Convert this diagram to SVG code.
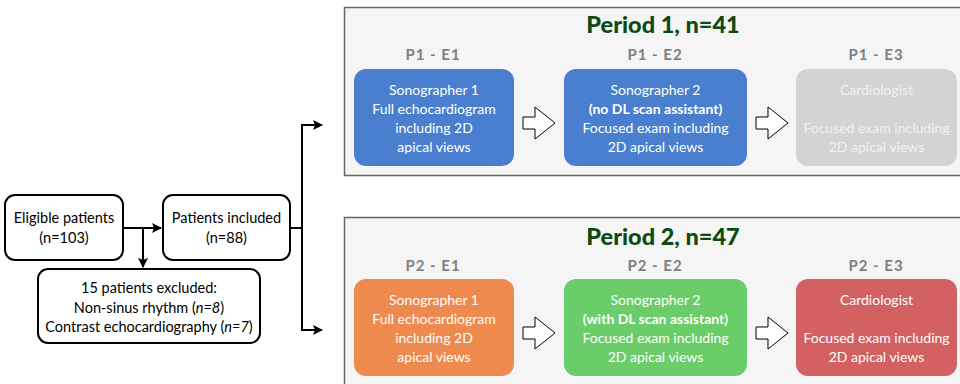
<svg xmlns="http://www.w3.org/2000/svg" width="960" height="384" viewBox="0 0 960 384">
<defs>
<marker id="ah" viewBox="0 0 10 10" refX="9" refY="5" markerWidth="10" markerHeight="10" markerUnits="userSpaceOnUse" orient="auto">
<path d="M0,0 L10,5 L0,10 L2,5 Z" fill="#000"/>
</marker>
<path id="harrow" d="M0,10 H12 V0 L32,16 L12,32 V22 H0 Z" fill="#fff" stroke="#000" stroke-width="1"/>
</defs>
<style>
text{font-family:Lato,"Open Sans","Liberation Sans",sans-serif;text-anchor:middle}
.wb{fill:#fff;stroke:#000;stroke-width:2}
.bt{font-size:14.5px;fill:#000}
.panel{fill:#f5f5f5;stroke:#666;stroke-width:1.5}
.title{font-size:23.5px;font-weight:900;fill:#0d4a12}
.lab{font-size:15px;font-weight:bold;fill:#7f7f7f;letter-spacing:1px}
.box{stroke:none}
.wt{font-size:14px;fill:#fff}
.gt{font-size:14px;fill:#f2f2f2}
.b{font-weight:bold}
.conn{fill:none;stroke:#000;stroke-width:2}
</style>
<rect class="panel" x="344.5" y="7.5" width="630" height="168"/>
<rect class="panel" x="344.5" y="217.5" width="630" height="180"/>
<g id="connectors">
<path class="conn" d="M123,228 H161" marker-end="url(#ah)"/>
<path class="conn" d="M143,228 V267" marker-end="url(#ah)"/>
<path class="conn" d="M290,228 H302 M302,125 V330"/>
<path class="conn" d="M301,125 H322" marker-end="url(#ah)"/>
<path class="conn" d="M301,330 H322" marker-end="url(#ah)"/>
<use href="#harrow" x="523" y="107"/>
<use href="#harrow" x="756" y="107"/>
<use href="#harrow" x="523" y="317"/>
<use href="#harrow" x="756" y="317"/>
</g>
<g id="eligible">
<rect class="wb" x="5" y="195" width="118" height="65" rx="10"/>
<text class="bt" x="64" y="223">Eligible patients</text>
<text class="bt" x="64" y="243">(n=103)</text>
</g>
<g id="included">
<rect class="wb" x="163" y="195" width="127" height="65" rx="10"/>
<text class="bt" x="226.5" y="223">Patients included</text>
<text class="bt" x="226.5" y="243">(n=88)</text>
</g>
<g id="excluded">
<rect class="wb" x="38" y="269" width="222" height="74" rx="10"/>
<text class="bt" x="149" y="293">15 patients excluded:</text>
<text class="bt" x="149" y="313">Non-sinus rhythm (<tspan font-style="italic">n=8</tspan>)</text>
<text class="bt" x="149" y="332">Contrast echocardiography (<tspan font-style="italic">n=7</tspan>)</text>
</g>
<g id="period1">
<text class="title" x="663" y="33">Period 1, n=41</text>
</g>
<g id="p1e1">
<text class="lab" x="433" y="60">P1 - E1</text>
<rect class="box" x="354" y="69" width="160" height="97" rx="12" fill="#4a7fd0"/>
<text class="wt" x="434" y="95">Sonographer 1</text>
<text class="wt" x="434" y="114">Full echocardiogram</text>
<text class="wt" x="434" y="133">including 2D</text>
<text class="wt" x="434" y="152">apical views</text>
</g>
<g id="p1e2">
<text class="lab" x="655" y="60">P1 - E2</text>
<rect class="box" x="564" y="69" width="183" height="97" rx="12" fill="#4a7fd0"/>
<text class="wt" x="655.5" y="95">Sonographer 2</text>
<text class="wt b" x="655.5" y="114">(no DL scan assistant)</text>
<text class="wt" x="655.5" y="133">Focused exam including</text>
<text class="wt" x="655.5" y="152">2D apical views</text>
</g>
<g id="p1e3">
<text class="lab" x="876" y="60">P1 - E3</text>
<rect class="box" x="796" y="69" width="161" height="97" rx="12" fill="#d3d3d3"/>
<text class="gt" x="876.5" y="95">Cardiologist</text>
<text class="gt" x="876.5" y="133">Focused exam including</text>
<text class="gt" x="876.5" y="152">2D apical views</text>
</g>
<g id="period2">
<text class="title" x="663" y="245">Period 2, n=47</text>
</g>
<g id="p2e1">
<text class="lab" x="433" y="271">P2 - E1</text>
<rect class="box" x="354" y="279" width="160" height="97" rx="12" fill="#ef8a4e"/>
<text class="wt" x="434" y="305">Sonographer 1</text>
<text class="wt" x="434" y="324">Full echocardiogram</text>
<text class="wt" x="434" y="343">including 2D</text>
<text class="wt" x="434" y="362">apical views</text>
</g>
<g id="p2e2">
<text class="lab" x="655" y="271">P2 - E2</text>
<rect class="box" x="564" y="279" width="183" height="97" rx="12" fill="#6acd6a"/>
<text class="wt" x="655.5" y="305">Sonographer 2</text>
<text class="wt b" x="655.5" y="324">(with DL scan assistant)</text>
<text class="wt" x="655.5" y="343">Focused exam including</text>
<text class="wt" x="655.5" y="362">2D apical views</text>
</g>
<g id="p2e3">
<text class="lab" x="876" y="271">P2 - E3</text>
<rect class="box" x="796" y="279" width="161" height="97" rx="12" fill="#d46161"/>
<text class="wt" x="876.5" y="305">Cardiologist</text>
<text class="wt" x="876.5" y="343">Focused exam including</text>
<text class="wt" x="876.5" y="362">2D apical views</text>
</g>
</svg>
